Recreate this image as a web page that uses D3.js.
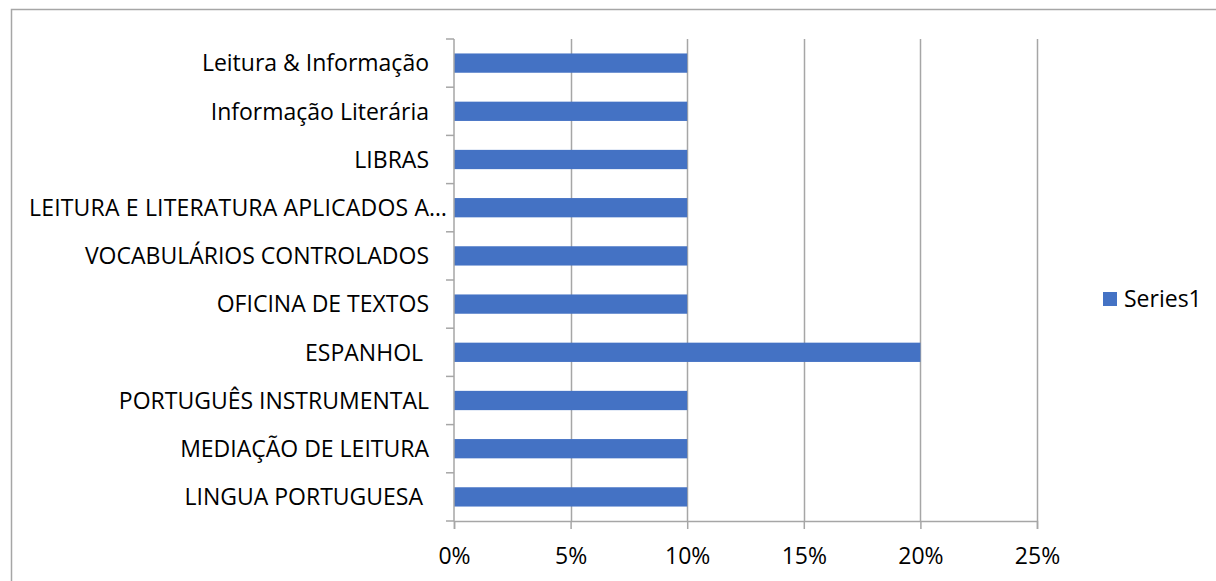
<!DOCTYPE html>
<html>
<head>
<meta charset="utf-8">
<script src="https://cdn.jsdelivr.net/npm/d3@7"></script>
<style>
  html, body { margin: 0; padding: 0; background: #fff; }
  svg text { font-family: "Open Sans", Lato, sans-serif; fill: #000; white-space: pre; }
</style>
</head>
<body>
<div id="chart"></div>
<script>
const categories = [
  'Leitura & Informação',
  'Informação Literária',
  'LIBRAS',
  'LEITURA E LITERATURA APLICADOS A…',
  'VOCABULÁRIOS CONTROLADOS',
  'OFICINA DE TEXTOS',
  'ESPANHOL ',
  'PORTUGUÊS INSTRUMENTAL',
  'MEDIAÇÃO DE LEITURA',
  'LINGUA PORTUGUESA '
];
const series1 = [0.10, 0.10, 0.10, 0.10, 0.10, 0.10, 0.20, 0.10, 0.10, 0.10];
const xTicks = [0, 0.05, 0.10, 0.15, 0.20, 0.25];
const seriesName = 'Series1';

const width = 1216, height = 581;
const plot = { left: 454, right: 1037, top: 39, bottom: 521 };
const barColor = '#4472C4';
const gridColor = '#a6a6a6';
const fontFamily = '"Open Sans", Lato, sans-serif';
const fontSize = 23;

const svg = d3.select('#chart').append('svg')
  .attr('width', width).attr('height', height);

// chart area border (runs off the right and bottom edge)
svg.append('rect')
  .attr('x', 11.5).attr('y', 9.5)
  .attr('width', width + 20).attr('height', height + 20)
  .attr('fill', 'none').attr('stroke', gridColor).attr('stroke-width', 1.5);

const x = d3.scaleLinear().domain([0, 0.25]).range([plot.left, plot.right]);
const y = d3.scaleBand().domain(categories).range([plot.top, plot.bottom])
  .paddingInner(0.6).paddingOuter(0.3);

// vertical gridlines
svg.append('g').selectAll('line').data(xTicks.slice(1)).enter().append('line')
  .attr('x1', (d) => Math.round(x(d)) + 0.5).attr('x2', (d) => Math.round(x(d)) + 0.5)
  .attr('y1', plot.top).attr('y2', plot.bottom)
  .attr('stroke', gridColor).attr('stroke-width', 1.5);

// bars
svg.append('g').selectAll('rect').data(categories).enter().append('rect')
  .attr('x', x(0))
  .attr('y', (d) => y(d))
  .attr('width', (d, i) => x(series1[i]) - x(0))
  .attr('height', y.bandwidth())
  .attr('fill', barColor);

// bottom axis
const xAxis = svg.append('g').attr('transform', 'translate(0,' + plot.bottom + ')')
  .call(d3.axisBottom(x).tickValues(xTicks).tickFormat(d3.format('.0%')).tickSize(8).tickPadding(19));
xAxis.select('.domain').attr('stroke', gridColor).attr('stroke-width', 1.5);
xAxis.selectAll('.tick line').attr('stroke', gridColor).attr('stroke-width', 1.5);
xAxis.selectAll('.tick text').attr('font-size', fontSize).attr('font-family', fontFamily).attr('fill', '#000');

// left axis line and category boundary ticks
svg.append('line')
  .attr('x1', plot.left).attr('x2', plot.left)
  .attr('y1', plot.top).attr('y2', plot.bottom)
  .attr('stroke', gridColor).attr('stroke-width', 1.5);
const step = y.step();
const bounds = d3.range(categories.length + 1).map((i) => plot.top + i * step);
svg.append('g').selectAll('line').data(bounds).enter().append('line')
  .attr('x1', plot.left - 8).attr('x2', plot.left)
  .attr('y1', (d) => d).attr('y2', (d) => d)
  .attr('stroke', gridColor).attr('stroke-width', 1.5);

// category labels
svg.append('g').selectAll('text').data(categories).enter().append('text')
  .attr('x', 429)
  .attr('y', (d) => y(d) + y.bandwidth() / 2)
  .attr('dy', '0.36em')
  .attr('text-anchor', 'end')
  .attr('font-size', fontSize)
  .text((d) => d)
  .each(function () {
    const w = this.getComputedTextLength();
    if (w > 400) d3.select(this).attr('text-anchor', 'start').attr('x', 29).attr('textLength', 418);
  });

// legend
svg.append('rect').attr('x', 1103).attr('y', 292).attr('width', 14).attr('height', 14).attr('fill', barColor);
svg.append('text').attr('x', 1124).attr('y', 307).attr('font-size', fontSize).text(seriesName);
</script>
</body>
</html>
